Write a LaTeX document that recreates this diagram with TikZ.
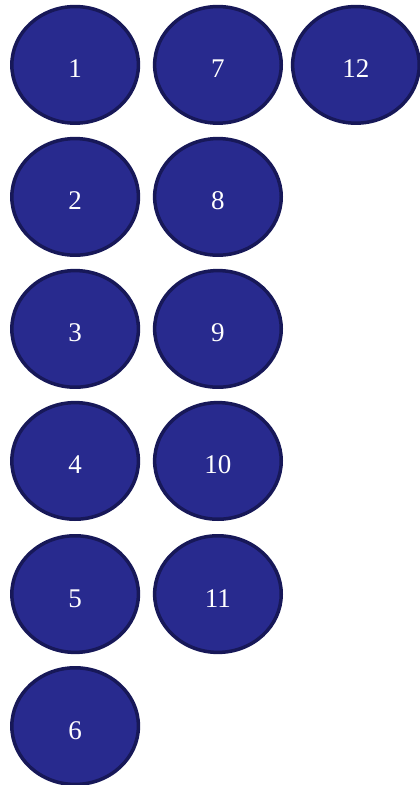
\documentclass[tikz,border=0pt]{standalone}
\usepackage{fontspec}
\setmainfont{Liberation Serif}
\usetikzlibrary{shapes.geometric}
\definecolor{discfill}{HTML}{282A8E}
\definecolor{discedge}{HTML}{171858}
\tikzset{
  disc/.style={ellipse, draw=discedge, line width=3.5pt, fill=discfill, minimum width=4.45cm, minimum height=4.1cm, inner sep=0pt, text=white, text height=26pt, text depth=0pt, font=\fontsize{27}{27}\selectfont},
}
\begin{document}
\begin{tikzpicture}
  \useasboundingbox (0,0) rectangle (14.76,27.59);
  % first column
  \node[disc] (n1) at (2.64,25.31) {1};
  \node[disc] (n2) at (2.64,20.67) {2};
  \node[disc] (n3) at (2.64,16.03) {3};
  \node[disc] (n4) at (2.64,11.39) {4};
  \node[disc] (n5) at (2.64,6.71) {5};
  \node[disc] (n6) at (2.64,2.07) {6};
  % second column
  \node[disc] (n7) at (7.66,25.31) {7};
  \node[disc] (n8) at (7.66,20.67) {8};
  \node[disc] (n9) at (7.66,16.03) {9};
  \node[disc] (n10) at (7.66,11.39) {10};
  \node[disc] (n11) at (7.66,6.71) {11};
  % third column
  \node[disc] (n12) at (12.51,25.31) {12};
\end{tikzpicture}
\end{document}
